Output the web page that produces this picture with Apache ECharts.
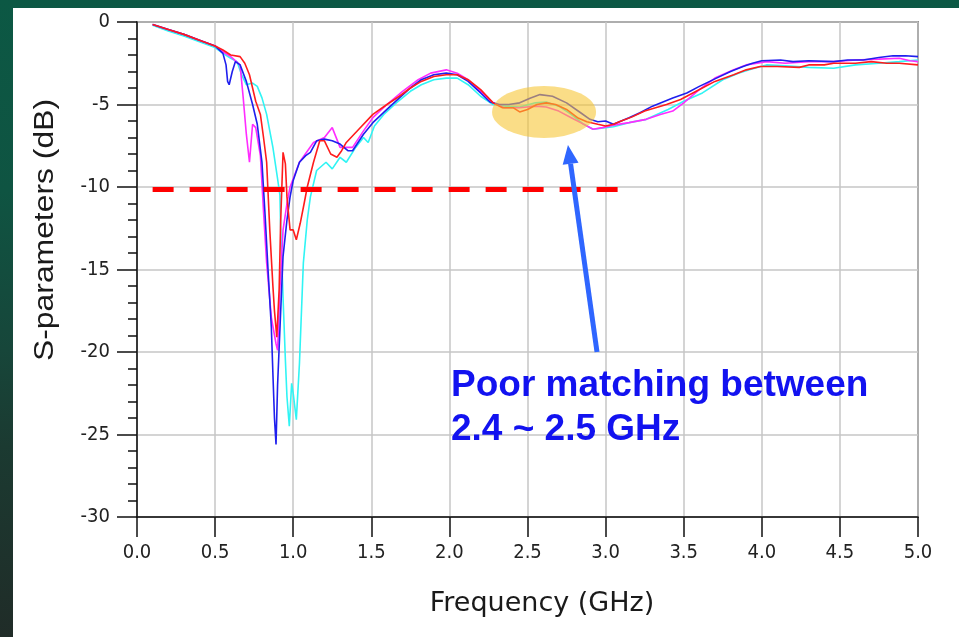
<!DOCTYPE html>
<html>
<head>
<meta charset="utf-8">
<script src="https://cdn.jsdelivr.net/npm/echarts@6/dist/echarts.min.js"></script>
<style>
  html, body { margin: 0; padding: 0; }
  body {
    width: 959px; height: 637px; overflow: hidden; position: relative;
    background: linear-gradient(180deg, #0c5844 0%, #0f5442 30%, #17463a 55%, #1b3a31 70%, #202c28 100%);
  }
  #panel { position: absolute; left: 13px; top: 8px; right: 0; bottom: 0; background: #ffffff; }
  #chart { position: absolute; left: 0; top: 0; width: 959px; height: 637px; }
</style>
</head>
<body>
<div id="panel"></div>
<div id="chart"></div>
<script>
// Measured return loss of four antenna samples, frequency in GHz, S11 in dB
const freqBlue = [0.10,0.20,0.30,0.40,0.50,0.55,0.57,0.58,0.59,0.61,0.63,0.66,0.70,0.74,0.77,0.80,0.82,0.84,0.86,0.87,0.88,0.89,0.90,0.92,0.935,0.96,0.98,1.00,1.04,1.08,1.11,1.15,1.20,1.25,1.30,1.35,1.38,1.45,1.51,1.60,1.68,1.75,1.82,1.90,1.98,2.05,2.12,2.20,2.26,2.32,2.38,2.45,2.52,2.58,2.66,2.75,2.84,2.90,2.95,3.00,3.05,3.10,3.15,3.22,3.30,3.43,3.52,3.60,3.71,3.80,3.88,3.94,4.00,4.12,4.20,4.30,4.46,4.55,4.65,4.75,4.84,4.92,5.00];
const s11Blue  = [-0.15,-0.45,-0.75,-1.1,-1.45,-1.9,-2.6,-3.6,-3.8,-3.0,-2.4,-2.6,-3.6,-5.0,-6.2,-8.5,-11.7,-15.2,-18.5,-21.3,-24.0,-25.6,-22.0,-17.5,-14.2,-12.0,-10.6,-9.6,-8.5,-8.1,-7.9,-7.2,-7.1,-7.2,-7.4,-7.8,-7.8,-6.8,-6.1,-5.3,-4.6,-4.0,-3.5,-3.2,-3.1,-3.2,-3.6,-4.3,-4.85,-5.0,-5.0,-4.9,-4.6,-4.4,-4.5,-4.9,-5.5,-5.9,-6.05,-6.0,-6.2,-6.0,-5.8,-5.5,-5.1,-4.6,-4.3,-3.9,-3.4,-3.0,-2.7,-2.5,-2.35,-2.3,-2.4,-2.35,-2.4,-2.3,-2.3,-2.15,-2.05,-2.05,-2.1];

const freqRed = [0.10,0.20,0.30,0.40,0.50,0.55,0.60,0.66,0.69,0.72,0.76,0.79,0.81,0.83,0.85,0.87,0.88,0.895,0.91,0.92,0.935,0.95,0.96,0.98,1.00,1.02,1.045,1.07,1.09,1.13,1.17,1.20,1.24,1.28,1.31,1.34,1.42,1.51,1.60,1.68,1.75,1.82,1.90,1.98,2.05,2.12,2.20,2.28,2.34,2.41,2.45,2.50,2.56,2.62,2.68,2.75,2.82,2.88,2.95,3.00,3.05,3.10,3.17,3.25,3.39,3.48,3.58,3.70,3.82,3.90,3.99,4.10,4.24,4.30,4.40,4.46,4.60,4.70,4.80,4.88,5.00];
const s11Red  = [-0.15,-0.45,-0.75,-1.1,-1.45,-1.7,-2.0,-2.1,-2.5,-3.2,-4.8,-5.6,-7.0,-8.5,-12.6,-16.0,-17.5,-19.1,-16.2,-12.0,-7.9,-8.6,-10.6,-12.6,-12.6,-13.2,-12.2,-11.0,-10.0,-8.5,-7.2,-7.2,-8.0,-8.2,-7.8,-7.3,-6.5,-5.6,-5.0,-4.5,-4.0,-3.6,-3.3,-3.2,-3.2,-3.5,-4.1,-4.9,-5.2,-5.2,-5.45,-5.3,-5.0,-4.9,-5.0,-5.3,-5.8,-6.05,-6.2,-6.3,-6.2,-6.0,-5.75,-5.4,-5.0,-4.7,-4.2,-3.6,-3.2,-2.9,-2.7,-2.7,-2.75,-2.6,-2.6,-2.5,-2.5,-2.4,-2.5,-2.5,-2.6];

const freqMagenta = [0.10,0.20,0.30,0.40,0.50,0.55,0.60,0.66,0.68,0.70,0.72,0.74,0.76,0.79,0.81,0.83,0.86,0.89,0.90,0.915,0.935,0.96,0.98,1.04,1.13,1.20,1.25,1.30,1.38,1.45,1.51,1.60,1.70,1.80,1.88,1.98,2.05,2.12,2.20,2.28,2.35,2.45,2.55,2.62,2.70,2.78,2.84,2.92,2.98,3.05,3.15,3.26,3.35,3.43,3.50,3.60,3.70,3.82,3.90,4.03,4.15,4.30,4.46,4.60,4.75,4.88,4.95,5.00];
const s11Magenta  = [-0.15,-0.45,-0.75,-1.1,-1.45,-1.8,-2.1,-2.6,-4.6,-6.8,-8.5,-6.2,-6.4,-8.1,-11.5,-14.6,-17.9,-19.5,-19.9,-16.2,-12.6,-11.0,-10.0,-8.5,-7.3,-7.0,-6.4,-7.6,-7.6,-6.6,-5.8,-5.0,-4.2,-3.5,-3.1,-2.9,-3.1,-3.5,-4.2,-4.9,-5.2,-5.2,-5.1,-5.15,-5.4,-5.8,-6.1,-6.5,-6.4,-6.25,-6.1,-5.9,-5.6,-5.4,-4.9,-4.1,-3.4,-2.9,-2.6,-2.4,-2.5,-2.4,-2.4,-2.3,-2.25,-2.2,-2.35,-2.4];

const freqCyan = [0.10,0.20,0.30,0.40,0.50,0.55,0.60,0.64,0.67,0.70,0.74,0.77,0.80,0.83,0.87,0.90,0.915,0.92,0.935,0.95,0.96,0.975,0.99,1.00,1.02,1.04,1.065,1.09,1.11,1.15,1.21,1.25,1.30,1.34,1.40,1.45,1.48,1.52,1.58,1.66,1.75,1.82,1.90,1.98,2.05,2.12,2.20,2.28,2.36,2.45,2.55,2.62,2.70,2.78,2.86,2.92,3.00,3.05,3.15,3.26,3.40,3.50,3.62,3.75,3.85,3.92,4.03,4.15,4.30,4.46,4.60,4.75,4.88,5.00];
const s11Cyan  = [-0.2,-0.55,-0.85,-1.2,-1.55,-1.9,-2.2,-2.4,-3.2,-3.8,-3.7,-3.9,-4.6,-5.6,-7.6,-9.5,-10.5,-12.6,-16.7,-20.5,-22.7,-24.5,-21.9,-22.5,-24.1,-20.7,-14.6,-12.0,-10.6,-9.0,-8.5,-8.9,-8.2,-8.5,-7.6,-7.0,-7.3,-6.3,-5.6,-4.9,-4.2,-3.8,-3.5,-3.4,-3.4,-3.8,-4.5,-5.0,-5.1,-5.15,-4.9,-4.85,-5.1,-5.6,-6.2,-6.5,-6.4,-6.35,-6.1,-5.9,-5.3,-4.8,-4.3,-3.5,-3.1,-2.9,-2.6,-2.65,-2.75,-2.8,-2.6,-2.5,-2.4,-2.3];

// -10 dB matching criterion
const limitFreq = [0.1, 3.1];
const limitLevel = -10.15;

// Axis ticks
const freqTicks = [0, 0.5, 1.0, 1.5, 2.0, 2.5, 3.0, 3.5, 4.0, 4.5, 5.0];
const dbTicks = [0, -5, -10, -15, -20, -25, -30];

// Highlighted band and its note (data units)
const bandCenter = [2.606, -5.45];
const arrowTail = [2.945, -20.0];
const arrowTip = [2.759, -7.45];
const noteLines = ['Poor matching between', '2.4 ~ 2.5 GHz'];

const zip = (xs, ys) => xs.map((x, i) => [x, ys[i]]);

const tickFont = "'DejaVu Sans Condensed', 'DejaVu Sans', sans-serif";
const chart = echarts.init(document.getElementById('chart'), null, { renderer: 'canvas' });

function curve(name, xs, ys, color) {
  return {
    name, type: 'line', data: zip(xs, ys), showSymbol: false, symbol: 'none',
    lineStyle: { color, width: 1.6 }, silent: true
  };
}

chart.setOption({
  animation: false,
  grid: { left: 137, top: 22, width: 781, height: 495, show: true, borderColor: '#3a3a3a', borderWidth: 1.5 },
  xAxis: {
    type: 'value', min: freqTicks[0], max: freqTicks[freqTicks.length - 1], interval: 0.5,
    axisLine: { onZero: false, lineStyle: { color: '#111', width: 1.5 } },
    axisTick: { length: 20, lineStyle: { color: '#111', width: 1.5 } },
    axisLabel: { formatter: v => v.toFixed(1), fontFamily: tickFont, fontSize: 20, color: '#222', margin: 26 },
    splitLine: { show: true, lineStyle: { color: '#c6c6c6', width: 1.5 } }
  },
  yAxis: {
    type: 'value', min: dbTicks[dbTicks.length - 1], max: dbTicks[0], interval: 5,
    axisLine: { show: true, onZero: false, lineStyle: { color: '#111', width: 1.5 } },
    axisTick: { show: true, length: 20, lineStyle: { color: '#111', width: 1.5 } },
    minorTick: { show: true, splitNumber: 5, length: 9, lineStyle: { color: '#111', width: 1.5 } },
    axisLabel: { fontFamily: tickFont, fontSize: 20, color: '#222', margin: 27 },
    splitLine: { show: true, lineStyle: { color: '#c6c6c6', width: 1.5 } }
  },
  series: [
    curve('Sample D', freqCyan, s11Cyan, '#30f4f4'),
    curve('Sample C', freqMagenta, s11Magenta, '#ff2cff'),
    curve('Sample A', freqBlue, s11Blue, '#1f1fee'),
    curve('Sample B', freqRed, s11Red, '#ff1c1c'),
    {
      name: 'Criterion', type: 'line', symbol: 'none', silent: true,
      data: limitFreq.map(f => [f, limitLevel]),
      lineStyle: { color: '#ff0000', width: 5, type: [21, 16] }, z: 5
    }
  ]
});

// Annotation overlay placed from data coordinates
const px = p => chart.convertToPixel({ gridIndex: 0 }, p);
const c = px(bandCenter);
const tail = px(arrowTail);
const tip = px(arrowTip);
const dx = tip[0] - tail[0], dy = tip[1] - tail[1];
const len = Math.hypot(dx, dy);
const ux = dx / len, uy = dy / len;
const headLen = 19, headHalf = 8;
const base = [tip[0] - ux * headLen, tip[1] - uy * headLen];
const nx = -uy, ny = ux;
const arrowColor = '#2f66ff';
const noteColor = '#1212f0';
const noteFont = 'bold 37px "Liberation Sans", Arial, sans-serif';

chart.setOption({
  graphic: [
    {
      type: 'circle', shape: { cx: 0, cy: 0, r: 52 }, x: c[0], y: c[1], scaleY: 0.5,
      style: { fill: 'rgba(247, 196, 48, 0.58)' }, z: 100
    },
    {
      type: 'line', shape: { x1: tail[0], y1: tail[1], x2: base[0], y2: base[1] },
      style: { stroke: arrowColor, lineWidth: 5 }, z: 100
    },
    {
      type: 'polygon',
      shape: { points: [tip, [base[0] + nx * headHalf, base[1] + ny * headHalf], [base[0] - nx * headHalf, base[1] - ny * headHalf]] },
      style: { fill: arrowColor }, z: 100
    },
    {
      type: 'text', x: 451, y: 386,
      style: { text: noteLines[0], fill: noteColor, font: noteFont, verticalAlign: 'middle', align: 'left' }, z: 100
    },
    {
      type: 'text', x: 451, y: 430,
      style: { text: noteLines[1], fill: noteColor, font: noteFont, verticalAlign: 'middle', align: 'left' }, z: 100
    },
    {
      type: 'text', x: 542, y: 604,
      style: { text: 'Frequency (GHz)', fill: '#1a1a1a', font: '27px "DejaVu Sans", sans-serif', verticalAlign: 'middle', align: 'center' }, z: 100
    },
    {
      type: 'text', x: 46, y: 230, rotation: Math.PI / 2, scaleX: 1.18,
      style: { text: 'S-parameters (dB)', fill: '#1a1a1a', font: '27px "Liberation Sans", Arial, sans-serif', verticalAlign: 'middle', align: 'center' }, z: 100
    }
  ]
});
</script>
</body>
</html>
